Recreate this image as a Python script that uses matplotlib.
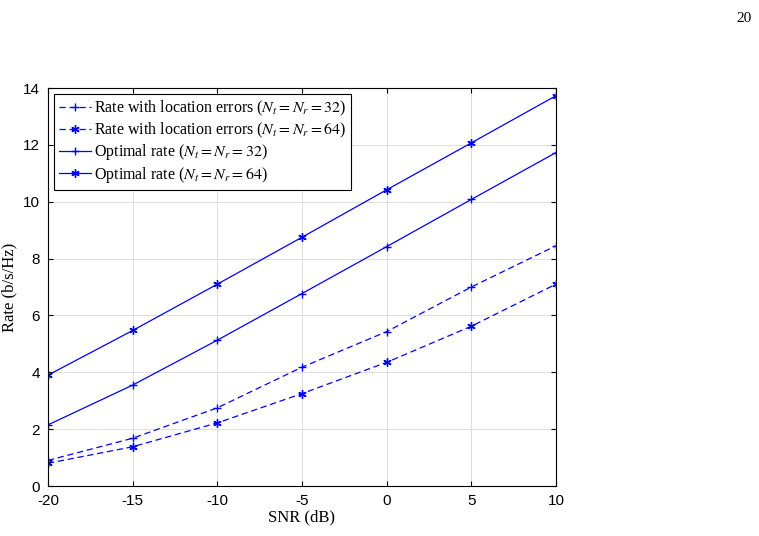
import matplotlib
matplotlib.use("Agg")
import matplotlib.pyplot as plt

snr = [-20, -15, -10, -5, 0, 5, 10]
loc32 = [0.9, 1.68, 2.75, 4.18, 5.43, 7.0, 8.45]
loc64 = [0.8, 1.38, 2.22, 3.25, 4.35, 5.62, 7.1]
opt32 = [2.15, 3.55, 5.13, 6.77, 8.42, 10.08, 11.73]
opt64 = [3.9, 5.47, 7.1, 8.75, 10.42, 12.07, 13.73]
labels = [r"Rate with location errors ($N_t=N_r=32$)",
          r"Rate with location errors ($N_t=N_r=64$)",
          r"Optimal rate ($N_t=N_r=32$)",
          r"Optimal rate ($N_t=N_r=64$)"]

plt.rcParams['mathtext.fontset'] = 'stix'
plt.rcParams['axes.unicode_minus'] = False
plt.rcParams['font.family'] = ['Liberation Serif', 'DejaVu Serif']
fig = plt.figure(figsize=(7.59, 5.36), dpi=100)
ax = fig.add_axes([48/759, 1-486/536, 508/759, 398/536])
c = 'blue'
ax.plot(snr, loc32, linestyle=(0, (5, 3)), marker='+', color=c, lw=0.9, ms=6, label=labels[0])
ax.plot(snr, loc64, linestyle=(0, (5, 3)), marker=(6, 2, 0), color=c, lw=0.9, ms=6, label=labels[1])
ax.plot(snr, opt32, '-', marker='+', color=c, lw=0.9, ms=6, label=labels[2])
ax.plot(snr, opt64, '-', marker=(6, 2, 0), color=c, lw=0.9, ms=6, label=labels[3])
ax.set_xlim(-20, 10)
ax.set_ylim(0, 14)
ax.set_xticks(snr)
ax.set_yticks(range(0, 15, 2))
ax.grid(True, color='#dddddd', lw=0.7)
ax.tick_params(direction='in', labelsize=11, top=True, right=True, pad=6)
for lab in ax.get_xticklabels() + ax.get_yticklabels():
    lab.set_family('Liberation Sans')
ax.set_xlabel('SNR (dB)', fontsize=12, labelpad=1)
ax.set_ylabel('Rate (b/s/Hz)', fontsize=12)
leg = ax.legend(loc='upper left', fontsize=11.5, fancybox=False, edgecolor='black',
                handlelength=2.0, handletextpad=0.2, borderpad=0.3, labelspacing=0.15,
                framealpha=1, borderaxespad=0.4)
leg.get_frame().set_linewidth(0.8)
fig.text(744/759, 1-18/536, '20', fontsize=11, ha='center', va='center')
fig.savefig('out.png', dpi=100)
